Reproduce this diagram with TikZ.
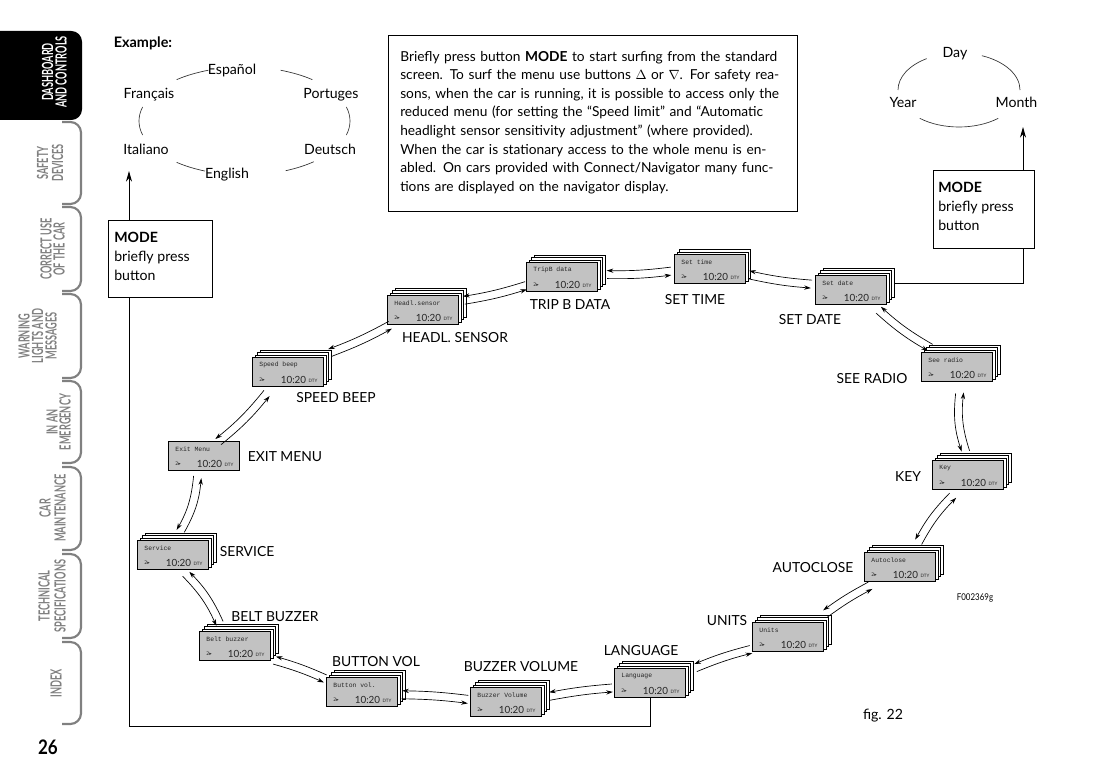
\documentclass[tikz,border=0pt]{standalone}
\usepackage{graphicx}
\usepackage{fontspec}
\setmainfont{Lato}
\newfontfamily\monofont{Liberation Mono}
\newfontfamily\dvs{DejaVu Sans}
\usetikzlibrary{calc,arrows.meta}
\definecolor{lcd}{gray}{0.76}
\definecolor{tabgrey}{gray}{0.5}
\tikzset{
  disp/.style={draw=black, line width=0.5pt, fill=lcd, minimum width=53.25pt, minimum height=21.75pt, inner sep=0pt},
  card/.style={draw=black, line width=0.5pt, fill=white, minimum width=53.25pt, minimum height=21.75pt, inner sep=0pt},
  dtxt/.style={font=\monofont\fontsize{4.8}{5}\selectfont, text=black!85, inner sep=0pt, anchor=west},
  lbl/.style={font=\fontsize{10.4}{12}\selectfont, inner sep=0pt},
  lang/.style={font=\fontsize{10.6}{12}\selectfont, inner sep=0pt},
  arr/.style={-{Stealth[length=5pt,width=3.2pt]}, line width=0.5pt},
  bigarr/.style={-{Stealth[length=8pt,width=4.5pt]}, line width=0.6pt},
  modebox/.style={draw=black, line width=0.6pt, fill=white, minimum width=#1, minimum height=58pt, inner sep=0pt},
  modetxt/.style={font=\fontsize{10.6}{14.25}\selectfont, align=left, inner sep=0pt, anchor=north west},
  tabline/.style={draw=tabgrey, line width=1.6pt, rounded corners=8},
  tabtxt/.style={font=\bfseries\fontsize{11.5}{12}\selectfont, text=tabgrey, inner sep=0pt, rotate=90},
  arcline/.style={line width=0.5pt, draw=black!80},
}
\newcommand\tabs[1]{\scalebox{0.6}[1]{#1}}
\newcommand\dispbox[5]{%
  \foreach \k in {3,2,1}{\ifnum\k>#5\relax\else\node[card] at ({#2+\k*2.5},{#3-\k*2.5}) {};\fi}
  \node[disp] (#1) at (#2,#3) {};
  \node[dtxt] at ($(#1.west)+(7,-7)$) {#4};
  \node[dtxt,font=\dvs\fontsize{3.6}{4}\selectfont] at ($(#1.west)+(7,8)$) {2▸};
  \node[font=\fontsize{7.4}{8}\selectfont, text=black!85, inner sep=0pt] at ($(#1.center)+(5.5,8)$) {10:20};
  \node[font=\fontsize{3.4}{4}\selectfont, text=black!85, inner sep=0pt] at ($(#1.center)+(25,8.5)$) {DTY};
}
\newcommand\lnk[5]{%
  \draw[arr] ($($(#1)!#3!(#2)$)!3pt!-90:(#2)$) to[bend right=#5] ($($(#2)!#4!(#1)$)!3pt!90:(#1)$);
  \draw[arr] ($($(#2)!#4!(#1)$)!3pt!-90:(#1)$) to[bend left=#5] ($($(#1)!#3!(#2)$)!3pt!90:(#2)$);
}
\begin{document}
\begin{tikzpicture}[x=0.75pt,y=-0.75pt]
\useasboundingbox (0,0) rectangle (1110,781);
\fill[white] (0,0) rectangle (1110,781);

% ---- side tabs
\fill[black, rounded corners=8] (-12,31) rectangle (82,120);
\node[tabtxt, text=white] at (47.5,72) {\tabs{DASHBOARD}};
\node[tabtxt, text=white] at (61,72) {\tabs{AND CONTROLS}};
\foreach \ya/\yb in {122/204, 207/291, 294/378, 381/463, 467/550, 554/638, 642/724}{
  \draw[tabline] (62,\ya) -- (81,\ya) -- (81,\yb) -- (62,\yb);
}
\node[tabtxt] at (42.5,163) {\tabs{SAFETY}};
\node[tabtxt] at (57.5,163) {\tabs{DEVICES}};
\node[tabtxt] at (46,249) {\tabs{CORRECT USE}};
\node[tabtxt] at (59,249) {\tabs{OF THE CAR}};
\node[tabtxt] at (24,336) {\tabs{WARNING}};
\node[tabtxt] at (37.5,336) {\tabs{LIGHTS AND}};
\node[tabtxt] at (51,336) {\tabs{MESSAGES}};
\node[tabtxt] at (52,422) {\tabs{IN AN}};
\node[tabtxt] at (65,422) {\tabs{EMERGENCY}};
\node[tabtxt] at (45,508) {\tabs{CAR}};
\node[tabtxt] at (60,508) {\tabs{MAINTENANCE}};
\node[tabtxt] at (44,596) {\tabs{TECHNICAL}};
\node[tabtxt] at (60,596) {\tabs{SPECIFICATIONS}};
\node[tabtxt] at (56,683) {\tabs{INDEX}};
\node[font=\bfseries\fontsize{15}{16}\selectfont, inner sep=0pt] (pg) at (48,747) {\scalebox{0.85}[1]{26}};

% ---- example (languages)
\node[font=\bfseries\fontsize{10.8}{12}\selectfont, inner sep=0pt] (ex) at (143,43) {Example:};
\node[lang] (esp) at (232,71) {Español};
\node[lang] (fra) at (149,95) {Français};
\node[lang] (por) at (331,95) {Portuges};
\node[lang] (ita) at (146,149) {Italiano};
\node[lang] (deu) at (330,149) {Deutsch};
\node[lang] (eng) at (227,175) {English};
\coordinate (lc) at (244.5,121);
\foreach \ta/\tb in {230/250, 290/310, -15/15, 165/195, 112/130, 49/67}{
  \draw[arcline] ($(lc)+(\ta:105.5 and 54)$) arc[start angle=\ta, end angle=\tb, x radius=105.5, y radius=54];
}

% ---- day / month / year
\node[lang] (day) at (955,54) {Day};
\node[lang] (yea) at (903,102) {Year};
\node[lang] (mon) at (1016.5,102) {Month};
\coordinate (dc) at (959,90);
\foreach \ta/\tb in {180/238, 292/360, 50/130}{
  \draw[arcline] ($(dc)+(\ta:61 and 37)$) arc[start angle=\ta, end angle=\tb, x radius=61, y radius=37];
}

% ---- info box
\node[draw=black, line width=0.6pt, minimum width=306.75pt, minimum height=132pt, inner sep=0pt] (info) at (592.5,123) {};
\node[anchor=north west, inner sep=0pt, text width=289.5pt, font=\fontsize{10.3}{13.9}\selectfont, align=left] (para) at (400,51) {%
\makebox[289.5pt][s]{Briefly press button \textbf{MODE} to start surfing from the standard}\\
\makebox[289.5pt][s]{screen. To surf the menu use buttons $\Delta$ or $\nabla$. For safety rea-}\\
\makebox[289.5pt][s]{sons, when the car is running, it is possible to access only the}\\
\makebox[289.5pt][s]{reduced menu (for setting the “Speed limit” and “Automatic}\\
\makebox[289.5pt][s]{headlight sensor sensitivity adjustment” (where provided).}\\
\makebox[289.5pt][s]{When the car is stationary access to the whole menu is en-}\\
\makebox[289.5pt][s]{abled. On cars provided with Connect/Navigator many func-}\\
tions are displayed on the navigator display.};

% ---- displays
\dispbox{tb}{562}{277}{TripB data}{3}
\dispbox{st}{710}{269}{Set time}{2}
\dispbox{sd}{851}{290}{Set date}{3}
\dispbox{sr}{957}{367}{See radio}{3}
\dispbox{ky}{968}{475}{Key}{3}
\dispbox{ac}{900}{567}{Autoclose}{3}
\dispbox{un}{788}{637}{Units}{3}
\dispbox{lg}{650}{683}{Language}{3}
\dispbox{bz}{506}{702}{Buzzer Volume}{3}
\dispbox{bv}{362}{692}{Button vol.}{3}
\dispbox{bb}{235}{646}{Belt buzzer}{3}
\dispbox{sv}{173}{555}{Service}{3}
\dispbox{em}{204}{456}{Exit Menu}{0}
\dispbox{sb}{288}{372}{Speed beep}{3}
\dispbox{hs}{423}{310}{Headl.sensor}{3}

% ---- labels
\node[lbl] (ltb) at (570,305) {TRIP B DATA};
\node[lbl] (lst) at (695,300) {SET TIME};
\node[lbl] (lsd) at (810,320) {SET DATE};
\node[lbl] (lhs) at (455,338) {HEADL. SENSOR};
\node[lbl] (lsb) at (336,398) {SPEED BEEP};
\node[lbl] (lem) at (285,457) {EXIT MENU};
\node[lbl] (lsv) at (247,552) {SERVICE};
\node[lbl] (lbb) at (275,617) {BELT BUZZER};
\node[lbl] (lbv) at (376,662) {BUTTON VOL};
\node[lbl] (lbz) at (521,667) {BUZZER VOLUME};
\node[lbl] (llg) at (641,651) {LANGUAGE};
\node[lbl] (lun) at (727,621) {UNITS};
\node[lbl] (lac) at (813,568) {AUTOCLOSE};
\node[lbl] (lky) at (908,477) {KEY};
\node[lbl] (lsr) at (872,379) {SEE RADIO};
\node[font=\fontsize{7}{8}\selectfont, inner sep=0pt] (code) at (975,598) {\scalebox{0.85}[1]{F002369g}};
\node[font=\fontsize{10.6}{12}\selectfont, inner sep=0pt] (fig) at (883,716) {fig. 22};

% ---- links between displays
\lnk{tb}{st}{33.75pt}{29.25pt}{4}
\lnk{st}{sd}{29.25pt}{30pt}{4}
\lnk{sd}{sr}{25.5pt}{24.75pt}{6}
\lnk{sr}{ky}{19.5pt}{18pt}{12}
\lnk{ky}{ac}{19pt}{23.25pt}{8}
\lnk{ac}{un}{26.25pt}{33pt}{4}
\lnk{un}{lg}{29.25pt}{36pt}{4}
\lnk{lg}{bz}{28.5pt}{33pt}{3}
\lnk{bz}{bv}{28.5pt}{30pt}{3}
\lnk{bv}{bb}{29.25pt}{31.5pt}{4}
\lnk{bb}{sv}{20.25pt}{17.25pt}{10}
\lnk{sv}{em}{18.75pt}{16.5pt}{12}
\lnk{em}{sb}{15pt}{22.5pt}{6}
\lnk{sb}{hs}{34.5pt}{27pt}{4}
\lnk{hs}{tb}{31.5pt}{27.75pt}{4}

% ---- MODE connectors
\coordinate (cl) at (129,726);
\coordinate (ar1) at (129,171);
\draw[bigarr] (lg.south) |- (cl) -- (ar1);
\coordinate (ar2) at (1023,127);
\draw[bigarr] ($(sd.east)+(7,-7)$) -| (ar2);

\node[modebox=78pt] (m1) at (160,259) {};
\node[modetxt] at (114,232) {\textbf{MODE}\\briefly press\\button};
\node[modebox=75.75pt] (m2) at (983.5,209.5) {};
\node[modetxt] at (938,182) {\textbf{MODE}\\briefly press\\button};
\end{tikzpicture}
\end{document}
